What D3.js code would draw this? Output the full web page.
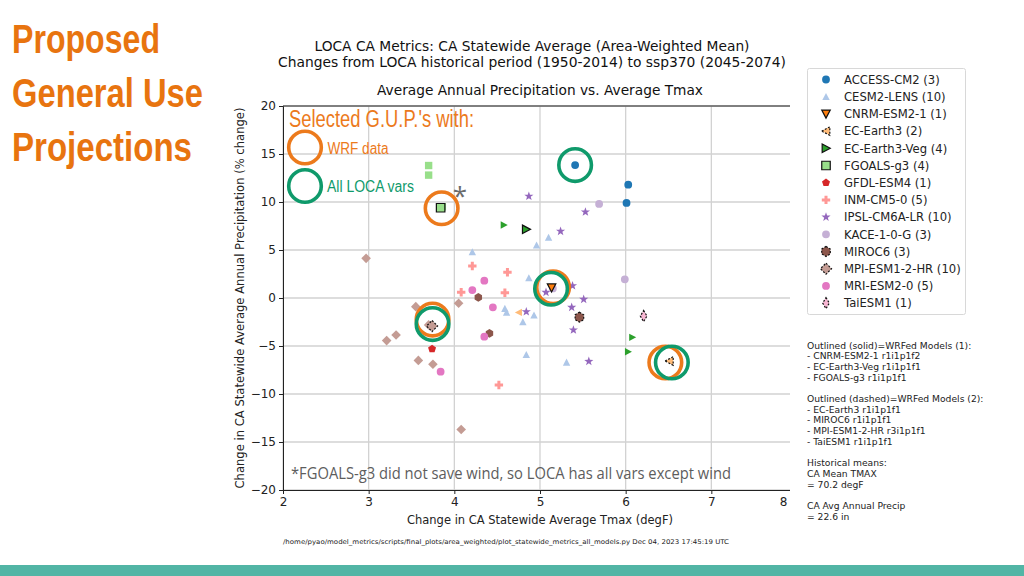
<!DOCTYPE html>
<html><head><meta charset="utf-8">
<script src="https://cdn.jsdelivr.net/npm/d3@7/dist/d3.min.js"></script>
<style>html,body{margin:0;padding:0;background:#fff;}svg{display:block;}</style>
</head><body>
<svg id="c" width="1024" height="576"></svg>
<script>
// ---------------- DATA ----------------
const models = ["ACCESS-CM2","CESM2-LENS","CNRM-ESM2-1","EC-Earth3","EC-Earth3-Veg","FGOALS-g3","GFDL-ESM4","INM-CM5-0","IPSL-CM6A-LR","KACE-1-0-G","MIROC6","MPI-ESM1-2-HR","MRI-ESM2-0","TaiESM1"];
const memberCounts = [3,10,1,2,4,4,1,5,10,3,3,10,5,1];
const pointModel = [
 "ACCESS-CM2","ACCESS-CM2","ACCESS-CM2",
 "CESM2-LENS","CESM2-LENS","CESM2-LENS","CESM2-LENS","CESM2-LENS","CESM2-LENS","CESM2-LENS","CESM2-LENS","CESM2-LENS","CESM2-LENS",
 "CNRM-ESM2-1",
 "EC-Earth3","EC-Earth3",
 "EC-Earth3-Veg","EC-Earth3-Veg","EC-Earth3-Veg","EC-Earth3-Veg",
 "FGOALS-g3","FGOALS-g3","FGOALS-g3","FGOALS-g3",
 "GFDL-ESM4",
 "INM-CM5-0","INM-CM5-0","INM-CM5-0","INM-CM5-0","INM-CM5-0",
 "IPSL-CM6A-LR","IPSL-CM6A-LR","IPSL-CM6A-LR","IPSL-CM6A-LR","IPSL-CM6A-LR","IPSL-CM6A-LR","IPSL-CM6A-LR","IPSL-CM6A-LR","IPSL-CM6A-LR","IPSL-CM6A-LR",
 "KACE-1-0-G","KACE-1-0-G","KACE-1-0-G",
 "MIROC6","MIROC6","MIROC6",
 "MPI-ESM1-2-HR","MPI-ESM1-2-HR","MPI-ESM1-2-HR","MPI-ESM1-2-HR","MPI-ESM1-2-HR","MPI-ESM1-2-HR","MPI-ESM1-2-HR","MPI-ESM1-2-HR","MPI-ESM1-2-HR","MPI-ESM1-2-HR",
 "MRI-ESM2-0","MRI-ESM2-0","MRI-ESM2-0","MRI-ESM2-0","MRI-ESM2-0",
 "TaiESM1"];
const pointTmax = [
 5.41,6.03,6.01,
 4.21,5.10,4.96,4.87,4.59,4.61,4.80,4.93,4.84,5.31,
 5.135,
 4.75,6.51,
 4.58,4.84,6.08,6.03,
 3.70,3.70,3.86,3.84,
 3.74,
 4.21,4.62,4.08,4.59,4.52,
 4.87,5.53,5.24,5.07,5.38,5.51,5.37,4.84,5.39,5.57,
 5.69,5.99,5.15,
 4.28,4.41,5.46,
 2.97,3.55,4.05,3.32,3.21,3.58,3.75,4.08,3.70,3.74,
 4.35,4.21,4.45,4.35,3.84,
 6.21];
const pointPrecip = [
 13.85,11.8,9.9,
 4.8,6.3,5.5,2.1,-1.1,-1.5,-2.5,-1.8,-5.9,-6.7,
 1.07,
 -1.5,-6.56,
 7.6,7.15,-4.1,-5.6,
 13.8,12.8,9.5,9.4,
 -5.3,
 3.33,2.68,0.6,0.55,-9.06,
 10.6,8.96,6.95,0.59,1.28,-0.14,-0.97,-1.43,-3.33,-6.6,
 9.8,1.95,1.0,
 0.07,-3.68,-2.0,
 4.13,-0.9,-0.55,-3.85,-4.44,-6.5,-6.9,-13.7,-2.8,-2.92,
 1.8,0.83,-0.97,-4.03,-7.67,
 -1.88];
// WRF-downscaled member of each model (index into points) and outline type
const wrfSolidPoints = [13, 17, 23];        // CNRM-ESM2-1, EC-Earth3-Veg, FGOALS-g3
const wrfDashedPoints = [15, 45, 55, 61];   // EC-Earth3, MIROC6, MPI-ESM1-2-HR, TaiESM1
const wrfSolidModels = ["CNRM-ESM2-1","EC-Earth3-Veg","FGOALS-g3"];
const wrfDashedModels = ["EC-Earth3","MIROC6","MPI-ESM1-2-HR","TaiESM1"];
// Selected GUP highlights
const gupWrfPoints = [23, 13, 55, 15];      // orange rings
const gupLocaPoints = [0, 13, 55, 15];      // green rings
const xTicks = [2,3,4,5,6,7,8];
const yTicks = [-20,-15,-10,-5,0,5,10,15,20];
const titleLines = ["LOCA CA Metrics: CA Statewide Average (Area-Weighted Mean)","Changes from LOCA historical period (1950-2014) to ssp370 (2045-2074)"];
const axTitle = "Average Annual Precipitation vs. Average Tmax";
const xLabel = "Change in CA Statewide Average Tmax (degF)";
const yLabel = "Change in CA Statewide Average Annual Precipitation (% change)";
const noteLines = ["Outlined (solid)=WRFed Models (1):","- CNRM-ESM2-1 r1i1p1f2","- EC-Earth3-Veg r1i1p1f1","- FGOALS-g3 r1i1p1f1","","Outlined (dashed)=WRFed Models (2):","- EC-Earth3 r1i1p1f1","- MIROC6 r1i1p1f1","- MPI-ESM1-2-HR r3i1p1f1","- TaiESM1 r1i1p1f1","","Historical means:","CA Mean TMAX","= 70.2 degF","","CA Avg Annual Precip","= 22.6 in"];
const footer = "/home/pyao/model_metrics/scripts/final_plots/area_weighted/plot_statewide_metrics_all_models.py   Dec 04, 2023 17:45:19 UTC";

// ---------------- STYLE ----------------
const colors = ["#1f77b4","#aec7e8","#ff7f0e","#ffbb78","#2ca02c","#98df8a","#d62728","#ff9896","#9467bd","#c5b0d5","#8c564b","#c49c94","#e377c2","#f7b6d2"];
const shapes = ["o","^","v","<",">","s","p","P","*","o","h","D","o","d"];
const ORANGE = "#ec7a1c", GREEN = "#0f9a6b";

function poly(pts){return "M"+pts.map(p=>p[0].toFixed(2)+","+p[1].toFixed(2)).join("L")+"Z";}
function regular(n, r, rot){const a=[];for(let i=0;i<n;i++){const t=rot+i*2*Math.PI/n;a.push([r*Math.sin(t),-r*Math.cos(t)]);}return a;}
function markerPath(s, k){
  k = k||1;
  switch(s){
    case "o": {const r=3.9*k;return `M${r},0A${r},${r} 0 1,1 ${-r},0A${r},${r} 0 1,1 ${r},0Z`;}
    case "^": {const r=3.7*k;return poly([[0,-r],[-r,r*0.9],[r,r*0.9]]);}
    case "v": {const r=3.7*k;return poly([[0,r],[-r,-r*0.9],[r,-r*0.9]]);}
    case "<": {const r=3.7*k;return poly([[-r,0],[r*0.9,-r],[r*0.9,r]]);}
    case ">": {const r=3.7*k;return poly([[r,0],[-r*0.9,-r],[-r*0.9,r]]);}
    case "s": {const r=3.7*k;return poly([[-r,-r],[r,-r],[r,r],[-r,r]]);}
    case "p": return poly(regular(5,4.2*k,0));
    case "P": {const r=4.2*k,w=1.5*k;return poly([[-w,-r],[w,-r],[w,-w],[r,-w],[r,w],[w,w],[w,r],[-w,r],[-w,w],[-r,w],[-r,-w],[-w,-w]]);}
    case "*": {const R=4.8*k,ri=R*0.4;const a=[];for(let i=0;i<10;i++){const t=i*Math.PI/5;const rr=i%2?ri:R;a.push([rr*Math.sin(t),-rr*Math.cos(t)]);}return poly(a);}
    case "h": return poly(regular(6,4.3*k,0));
    case "D": {const r=4.8*k;return poly([[0,-r],[r,0],[0,r],[-r,0]]);}
    case "d": {const r=4.8*k;return poly([[0,-r],[r*0.6,0],[0,r],[-r*0.6,0]]);}
  }
}

// ---------------- DRAW ----------------
const svg = d3.select("#c");
svg.append("rect").attr("width",1024).attr("height",576).attr("fill","#fff");

const x = d3.scaleLinear().domain([2,8]).range([283,797]);
const y = d3.scaleLinear().domain([-20,20]).range([490,106]);

// grid
const grid = svg.append("g");
grid.selectAll("line.gx").data(xTicks).join("line").attr("x1",d=>x(d)).attr("x2",d=>x(d)).attr("y1",y(-20)).attr("y2",y(20)).attr("stroke","#d2d2d2").attr("stroke-width",1.3);
grid.selectAll("line.gy").data(yTicks).join("line").attr("y1",d=>y(d)).attr("y2",d=>y(d)).attr("x1",x(2)).attr("x2",x(8)).attr("stroke","#d2d2d2").attr("stroke-width",1.3);

// axes
const fmt = d=> d<0 ? "\u2212"+Math.abs(d) : String(d);
const xAxis = svg.append("g").attr("transform",`translate(0,${y(-20)})`).call(d3.axisBottom(x).tickValues(xTicks).tickFormat(fmt).tickSize(4).tickPadding(3));
const yAxis = svg.append("g").attr("transform",`translate(${x(2)},0)`).call(d3.axisLeft(y).tickValues(yTicks).tickFormat(fmt).tickSize(4).tickPadding(3));
[xAxis,yAxis].forEach(a=>{a.selectAll("text").attr("font-family","DejaVu Sans").attr("font-size",12).attr("fill","#222");a.selectAll("line,path").attr("stroke","#222");});
// frame top
svg.append("line").attr("x1",x(2)).attr("x2",x(8)).attr("y1",y(20)).attr("y2",y(20)).attr("stroke","#222");

// points
const pts = pointModel.map((m,i)=>({m, mi:models.indexOf(m), x:pointTmax[i], y:pointPrecip[i], i,
  wrf: wrfSolidPoints.includes(i)?"solid":(wrfDashedPoints.includes(i)?"dashed":"")}));
const plain = pts.filter(p=>!p.wrf), outl = pts.filter(p=>p.wrf);
svg.append("g").selectAll("path").data(plain).join("path")
  .attr("d",p=>markerPath(shapes[p.mi],1)).attr("transform",p=>`translate(${x(p.x)},${y(p.y)})`)
  .attr("fill",p=>colors[p.mi]);
svg.append("g").selectAll("path").data(outl).join("path")
  .attr("d",p=>markerPath(shapes[p.mi],1.15)).attr("transform",p=>`translate(${x(p.x)},${y(p.y)})`)
  .attr("fill",p=>colors[p.mi]).attr("stroke","#111").attr("stroke-width",1.2)
  .attr("stroke-dasharray",p=>p.wrf==="dashed"?"2,1.5":null);

// the chart picture is cut at its right edge by the pasted legend panel
svg.append("rect").attr("x",790).attr("y",98).attr("width",16).attr("height",400).attr("fill","#fff");
xAxis.selectAll(".tick").filter(d=>d===8).select("text").attr("dx",-14);

// titles
const tf = "DejaVu Sans";
svg.append("text").attr("x",532).attr("y",51).attr("text-anchor","middle").attr("font-family",tf).attr("font-size",13.5).attr("fill","#111").attr("textLength",435).attr("lengthAdjust","spacingAndGlyphs").text(titleLines[0]);
svg.append("text").attr("x",532).attr("y",67).attr("text-anchor","middle").attr("font-family",tf).attr("font-size",13.5).attr("fill","#111").attr("textLength",508).attr("lengthAdjust","spacingAndGlyphs").text(titleLines[1]);
svg.append("text").attr("x",540).attr("y",95).attr("text-anchor","middle").attr("font-family",tf).attr("font-size",13.5).attr("fill","#111").attr("textLength",326).attr("lengthAdjust","spacingAndGlyphs").text(axTitle);
svg.append("text").attr("x",540).attr("y",524).attr("text-anchor","middle").attr("font-family",tf).attr("font-size",12).attr("fill","#222").attr("textLength",266).attr("lengthAdjust","spacingAndGlyphs").text(xLabel);
svg.append("text").attr("transform","translate(244,298) rotate(-90)").attr("text-anchor","middle").attr("font-family",tf).attr("font-size",12).attr("fill","#222").attr("textLength",381).attr("lengthAdjust","spacingAndGlyphs").text(yLabel);
svg.append("text").attr("x",283).attr("y",544).attr("font-family",tf).attr("font-size",6.5).attr("fill","#222").attr("textLength",446).attr("lengthAdjust","spacingAndGlyphs").text(footer);

// legend
const lg = svg.append("g");
lg.append("rect").attr("x",807.5).attr("y",68.5).attr("width",158).attr("height",246).attr("rx",2).attr("fill","#fff").attr("stroke","#d8d8d8");
models.forEach((m,i)=>{
  const yy = 79.5 + i*17.2;
  const isS = wrfSolidModels.includes(m), isD = wrfDashedModels.includes(m);
  lg.append("path").attr("d",markerPath(shapes[i],(isS||isD)?1.15:1)).attr("transform",`translate(826,${yy})`)
    .attr("fill",colors[i]).attr("stroke",(isS||isD)?"#111":null).attr("stroke-width",1.2).attr("stroke-dasharray",isD?"2,1.5":null);
  lg.append("text").attr("x",844).attr("y",yy+4.3).attr("font-family",tf).attr("font-size",11.6).attr("fill","#222").text(`${m} (${memberCounts[i]})`);
});
// notes
noteLines.forEach((t,i)=>{
  svg.append("text").attr("x",807).attr("y",348.5+i*10.7).attr("font-family",tf).attr("font-size",9.2).attr("fill","#222").text(t);
});

// GUP rings
const ringOffO = [[1,0.5],[1.5,-0.5],[0.5,-6.5],[-4,1.5]];
const ringOffG = [[0,0],[-0.5,1],[0.5,-2],[2.5,1.5]];
gupWrfPoints.forEach((pi,k)=>{
  svg.append("circle").attr("cx",x(pointTmax[pi])+ringOffO[k][0]).attr("cy",y(pointPrecip[pi])+ringOffO[k][1]).attr("r",16.3).attr("fill","none").attr("stroke",ORANGE).attr("stroke-width",3.6);
});
gupLocaPoints.forEach((pi,k)=>{
  svg.append("circle").attr("cx",x(pointTmax[pi])+ringOffG[k][0]).attr("cy",y(pointPrecip[pi])+ringOffG[k][1]).attr("r",16.3).attr("fill","none").attr("stroke",GREEN).attr("stroke-width",3.6);
});
// ring legend annotation
const cf = "Liberation Sans Narrow, Liberation Sans, sans-serif";
svg.append("text").attr("x",289).attr("y",127).attr("font-family",cf).attr("font-size",23).attr("fill",ORANGE).attr("textLength",185).attr("lengthAdjust","spacingAndGlyphs").text("Selected G.U.P.'s with:");
svg.append("circle").attr("cx",305).attr("cy",147.5).attr("r",16.3).attr("fill","none").attr("stroke",ORANGE).attr("stroke-width",3.6);
svg.append("circle").attr("cx",305).attr("cy",186).attr("r",16.3).attr("fill","none").attr("stroke",GREEN).attr("stroke-width",3.6);
svg.append("text").attr("x",327.5).attr("y",153.5).attr("font-family",cf).attr("font-size",16).attr("fill",ORANGE).attr("textLength",61).attr("lengthAdjust","spacingAndGlyphs").text("WRF data");
svg.append("text").attr("x",327).attr("y",192).attr("font-family",cf).attr("font-size",16).attr("fill",GREEN).attr("textLength",87).attr("lengthAdjust","spacingAndGlyphs").text("All LOCA vars");
svg.append("text").attr("x",460).attr("y",205).attr("text-anchor","middle").attr("font-family","Open Sans").attr("font-size",26).attr("fill","#6b6b6b").text("*");
svg.append("text").attr("x",291).attr("y",479).attr("font-family","Open Sans").attr("font-size",16).attr("fill","#5d5d5d").attr("textLength",440).attr("lengthAdjust","spacingAndGlyphs").text("*FGOALS-g3 did not save wind, so LOCA has all vars except wind");

// slide title
const big = ["Proposed","General Use","Projections"];
const bigW = [148,191,180];
big.forEach((t,i)=>{
  svg.append("text").attr("x",12).attr("y",53+i*54).attr("font-family",cf).attr("font-weight","bold").attr("font-size",41).attr("fill","#e8740f").attr("textLength",bigW[i]).attr("lengthAdjust","spacingAndGlyphs").text(t);
});
// bottom bar
svg.append("rect").attr("x",0).attr("y",565).attr("width",1024).attr("height",11).attr("fill","#52b5a5");
</script>
</body></html>
